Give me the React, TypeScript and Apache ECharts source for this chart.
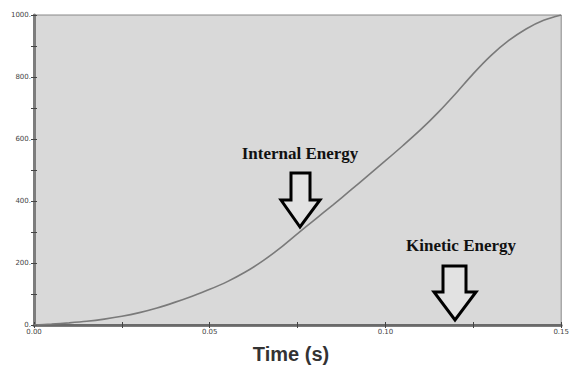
import React, { useEffect, useRef } from "react";
import * as echarts from "echarts";

const timeValues = [0, 0.005, 0.01, 0.015, 0.02, 0.025, 0.03, 0.035, 0.04, 0.045, 0.05, 0.055, 0.06, 0.065, 0.07, 0.075, 0.08, 0.085, 0.09, 0.095, 0.1, 0.105, 0.11, 0.115, 0.12, 0.125, 0.13, 0.135, 0.14, 0.145, 0.15];
const energyValues = [0, 3, 7, 12, 19, 28, 40, 55, 73, 93, 115, 140, 170, 206, 248, 295, 341, 387, 434, 482, 530, 579, 630, 686, 747, 811, 869, 917, 955, 983, 1000];
const xTitle = "Time (s)";
const annotations = ["Internal Energy", "Kinetic Energy"];

export default function App() {
  const ref = useRef<HTMLDivElement>(null);
  useEffect(() => {
    if (!ref.current) return;
    const chart = echarts.init(ref.current, null, { renderer: "svg" });
    const axisLineColor = "#7d7d7d";
    const tickStyle = { show: true, inside: true, length: 3, lineStyle: { color: "#444", width: 1 } };
    const minorStyle = { show: true, splitNumber: 2, length: 3, lineStyle: { color: "#444", width: 1 } };
    const arrow = (sx0: number, sx1: number, top: number, hx0: number, hx1: number, sh: number, tipX: number, tipY: number) => ({
      type: "polygon",
      shape: { points: [[sx0, top], [sx1, top], [sx1, sh], [hx1, sh], [tipX, tipY], [hx0, sh], [sx0, sh]] },
      style: { fill: "#e2e2e2", stroke: "#000", lineWidth: 3, lineJoin: "miter" },
      z: 10,
    });
    chart.setOption({
      animation: false,
      backgroundColor: "#ffffff",
      grid: { left: 34, right: 6, top: 15, bottom: 40, show: true, backgroundColor: "#d9d9d9", borderColor: "#888", borderWidth: 1 },
      xAxis: [
        {
          type: "value", min: 0, max: 0.15, interval: 0.05, position: "bottom",
          axisLine: { show: true, lineStyle: { color: axisLineColor, width: 3 } },
          axisTick: tickStyle, minorTick: minorStyle, splitLine: { show: false },
          axisLabel: { fontSize: 7, color: "#444", margin: 3, fontFamily: "DejaVu Sans", formatter: (v: number) => v.toFixed(2) },
        },
        {
          type: "value", min: 0, max: 0.15, interval: 0.05, position: "top",
          axisLine: { show: true, lineStyle: { color: "#6a6a6a", width: 2 } },
          axisTick: tickStyle, minorTick: minorStyle, splitLine: { show: false }, axisLabel: { show: false },
        },
      ],
      yAxis: [
        {
          type: "value", min: 0, max: 1000, interval: 200, position: "left",
          axisLine: { show: true, lineStyle: { color: axisLineColor, width: 3 } },
          axisTick: tickStyle, minorTick: minorStyle, splitLine: { show: false },
          axisLabel: { fontSize: 7, color: "#444", margin: 3, fontFamily: "DejaVu Sans", formatter: (v: number) => v + "." },
        },
        {
          type: "value", min: 0, max: 1000, interval: 200, position: "right",
          axisLine: { show: true, lineStyle: { color: axisLineColor, width: 2 } },
          axisTick: tickStyle, minorTick: minorStyle, splitLine: { show: false }, axisLabel: { show: false },
        },
      ],
      series: [
        {
          type: "line",
          data: timeValues.map((t, i) => [t, energyValues[i]]),
          showSymbol: false,
          smooth: 0.3,
          lineStyle: { color: "#7a7a7a", width: 1.6 },
        },
      ],
      graphic: [
        {
          type: "text", x: 300, y: 153, z: 10,
          style: { text: annotations[0], fontFamily: "Liberation Serif", fontWeight: "bold", fontSize: 17, fill: "#111", align: "center", verticalAlign: "middle" },
        },
        {
          type: "text", x: 461, y: 245, z: 10,
          style: { text: annotations[1], fontFamily: "Liberation Serif", fontWeight: "bold", fontSize: 17, fill: "#111", align: "center", verticalAlign: "middle" },
        },
        arrow(291, 310, 173, 281, 320, 200, 300, 227),
        arrow(443, 466, 266, 434, 476, 292, 455, 320),
        {
          type: "text", x: 291, y: 354, z: 10,
          style: { text: xTitle, fontFamily: "Liberation Sans", fontWeight: "bold", fontSize: 20, fill: "#333", align: "center", verticalAlign: "middle" },
        },
      ],
    });
    return () => chart.dispose();
  }, []);
  return <div ref={ref} style={{ position: "fixed", left: 0, top: 0, width: 572, height: 365 }} />;
}
